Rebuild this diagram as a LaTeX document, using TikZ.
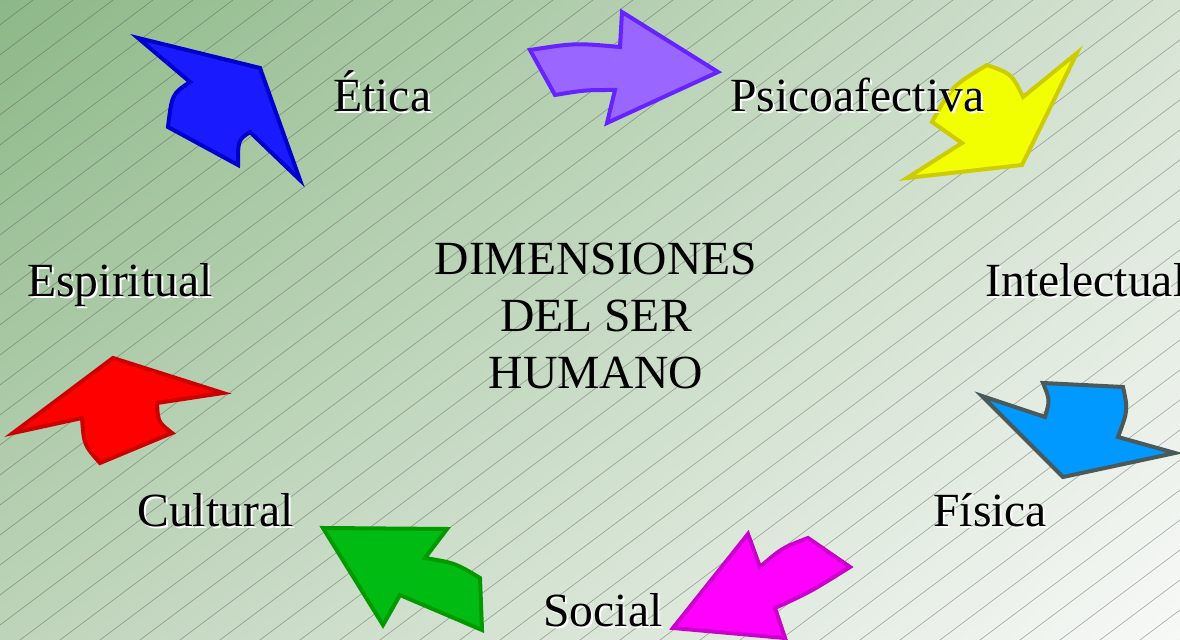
\documentclass[tikz,border=0pt]{standalone}
\usepackage{fontspec}
\usetikzlibrary{shadings}
\setmainfont{Liberation Serif}
\definecolor{fondoA}{RGB}{140,184,135}
\definecolor{fondoB}{RGB}{214,227,211}
\definecolor{fondoC}{RGB}{190,212,186}
\definecolor{fondoD}{RGB}{247,249,247}
\definecolor{azulF}{RGB}{26,26,255}
\definecolor{azulB}{RGB}{0,0,204}
\definecolor{liloF}{RGB}{153,102,255}
\definecolor{liloB}{RGB}{102,34,255}
\definecolor{amariF}{RGB}{242,255,0}
\definecolor{amariB}{RGB}{204,204,0}
\definecolor{celesF}{RGB}{0,153,255}
\definecolor{celesB}{RGB}{74,90,90}
\definecolor{rosaF}{RGB}{255,0,255}
\definecolor{rosaB}{RGB}{204,0,204}
\definecolor{verdeF}{RGB}{0,187,17}
\definecolor{verdeB}{RGB}{0,153,0}
\definecolor{rojoF}{RGB}{255,0,0}
\definecolor{rojoB}{RGB}{204,0,0}
\begin{document}
\begin{tikzpicture}
  [x=0.5pt,y=-0.5pt,every node/.style={font=\fontsize{23.8}{28.5}\selectfont,inner sep=0pt}]
  \tikzstyle{dim} = [text=black]
  \tikzstyle{sombra} = [text=white]
  \tikzstyle{flecha} = [line width=2pt,line join=miter]
  \tikzstyle{raya} = [black!70,opacity=.45,line width=.3pt]

  % fondo
  \useasboundingbox (0,0) rectangle (1180,640);
  \clip (0,0) rectangle (1180,640);
  \shade[upper left=fondoA,upper right=fondoB,lower left=fondoC,lower right=fondoD] (0,0) rectangle (1180,640);
  \foreach \x in {-900,-860,...,1180}
    \draw[raya] (\x,640) -- ++(853,-640);

  % flechas
  \draw[flecha,fill=azulF,draw=azulB] (138,38) -- (260,68) -- (300,180) -- (250,132)
    .. controls (238,140) .. (238,165) -- (168,127) .. controls (172,94) .. (190,82) -- cycle;
  \draw[flecha,fill=liloF,draw=liloB] (530,50) .. controls (575,43) .. (620,47) -- (622,12)
    -- (718,72) -- (607,123) -- (615,90) .. controls (585,90) .. (555,95) -- cycle;
  \draw[flecha,fill=amariF,draw=amariB] (987,65) .. controls (1012,74) .. (1023,97) -- (1077,53)
    -- (1022,165) -- (907,178) -- (962,143) -- (932,122) .. controls (952,86) .. cycle;
  \draw[flecha,fill=celesF,draw=celesB] (1043,383) -- (1123,387) .. controls (1128,410) .. (1118,437)
    -- (1175,453) -- (1063,477) -- (982,396) -- (1045,417) .. controls (1050,400) .. cycle;
  \draw[flecha,fill=rosaF,draw=rosaB] (808,538) -- (850,567) .. controls (810,592) .. (775,608)
    -- (785,638) -- (673,628) -- (748,534) -- (760,567) .. controls (782,548) .. cycle;
  \draw[flecha,fill=verdeF,draw=verdeB] (323,528) -- (447,529) -- (425,558) .. controls (455,563) .. (480,578)
    -- (482,630) -- (400,595) -- (383,625) -- cycle;
  \draw[flecha,fill=rojoF,draw=rojoB] (113,358) -- (223,393) -- (157,403) .. controls (158,422) .. (172,433)
    -- (100,463) .. controls (84,445) .. (82,418) -- (13,433) -- cycle;

  % textos
  \foreach \nombre/\texto/\x/\y in {etica/Ética/333/112,psico/Psicoafectiva/730/112,
      intel/Intelectual/985/297,espir/Espiritual/27/297,cultu/Cultural/137/527,
      fisic/Física/933/527,socia/Social/543/627} {
    \node[sombra,anchor=base west] (s\nombre) at (\x+2,\y+2) {\texto};
    \node[dim,anchor=base west] (\nombre) at (\x,\y) {\texto};
  }
  \node[dim,align=center] (titulo) at (596,316) {DIMENSIONES\\DEL SER\\HUMANO};

\end{tikzpicture}
\end{document}
